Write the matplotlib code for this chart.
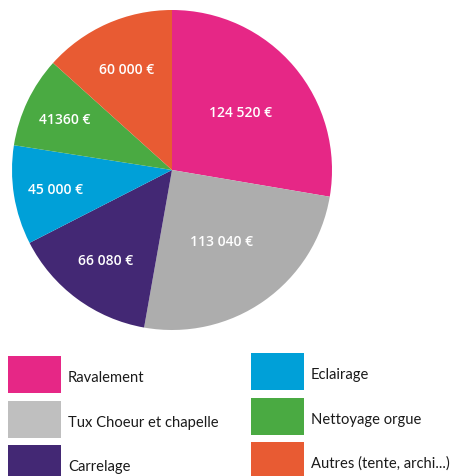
import numpy as np
import matplotlib
matplotlib.use('Agg')
import matplotlib.pyplot as plt
from matplotlib.patches import Rectangle

# Budget data
categories = ['Ravalement', 'Tux Choeur et chapelle', 'Carrelage',
              'Eclairage', 'Nettoyage orgue', 'Autres (tente, archi...)']
values = [124520, 113040, 66080, 45000, 41360, 60000]
value_labels = ['124 520 €', '113 040 €', '66 080 €', '45 000 €', '41360 €', '60 000 €']
colors = ['#E62786', '#ADADAD', '#432874', '#00A0D8', '#4AAA42', '#E85B33']
legend_colors = ['#E62786', '#BFBFBF', '#432874', '#00A0D8', '#4AAA42', '#E85B33']
label_radius = [0.56, 0.54, 0.70, 0.74, 0.74, 0.69]

W, H = 460, 477
fig = plt.figure(figsize=(W / 100, H / 100), dpi=100)

# Pie, centre (172, 171) px, radius 160 px
cx, cy, r = 172, 171, 160
ax = fig.add_axes([(cx - r) / W, 1 - (cy + r) / H, 2 * r / W, 2 * r / H])
wedges, _ = ax.pie(values, colors=colors, startangle=90, counterclock=False,
                   radius=1, wedgeprops=dict(linewidth=0))
ax.set_xlim(-1, 1)
ax.set_ylim(-1, 1)
ax.set_aspect('equal')
ax.axis('off')

for w, lab, rr in zip(wedges, value_labels, label_radius):
    ang = np.deg2rad((w.theta1 + w.theta2) / 2)
    ax.text(rr * np.cos(ang), rr * np.sin(ang), lab, color='white',
            ha='center', va='center', fontsize=10, fontweight='semibold',
            family='Open Sans')

# Legend in pixel coordinates
lax = fig.add_axes([0, 0, 1, 1], zorder=-1)
lax.set_xlim(0, W)
lax.set_ylim(H, 0)
lax.axis('off')

col_x = [8, 251]
row_y = [357, 402, 446]
for i, (name, c) in enumerate(zip(categories, legend_colors)):
    col, row = divmod(i, 3)
    x0 = col_x[col]
    y0 = row_y[row] - (3 if col == 1 else 0)
    lax.add_patch(Rectangle((x0, y0), 53, 37, facecolor=c, edgecolor='none'))
    lax.text(x0 + 60, y0 + 21, name, fontsize=10.6, va='center', ha='left',
             color='#1a1a1a', family='Lato')

fig.savefig('out.png', dpi=100)
